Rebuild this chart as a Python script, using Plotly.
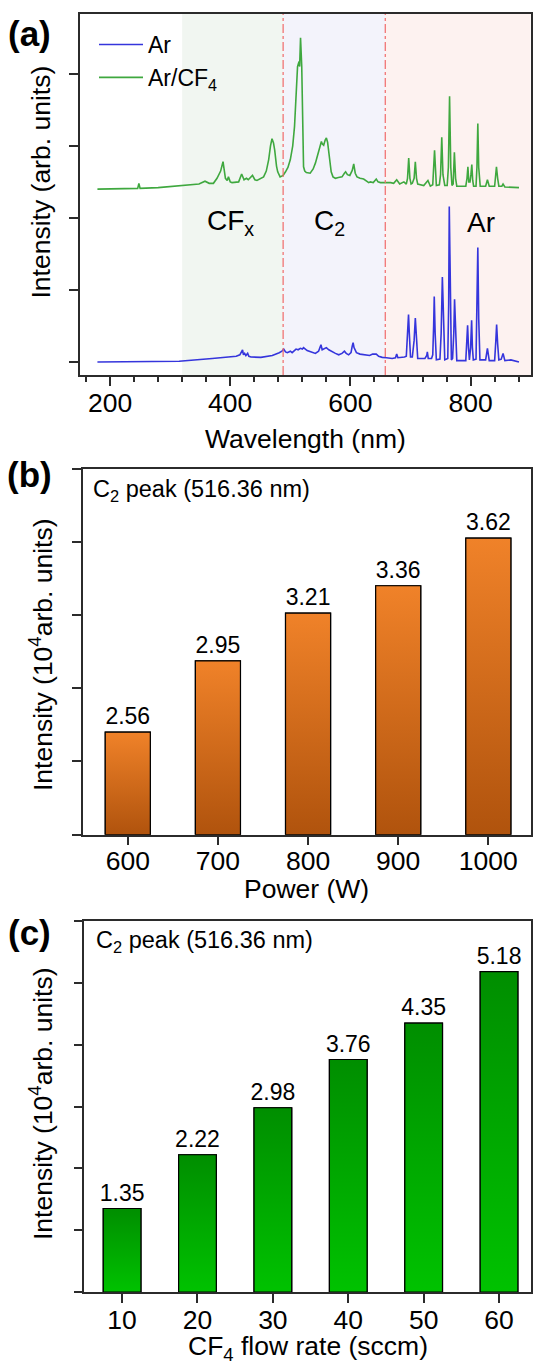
import plotly.graph_objects as go

# ---------------- (a) optical emission spectra ----------------
wl_arcf4 = [179, 200, 240, 246, 248, 250, 280, 310, 348, 358, 365, 372, 378, 384, 388, 392, 395, 397,
            400, 403, 414, 419, 423, 427, 430, 437, 441, 444.5, 455.5, 460, 464, 467, 469.5, 472, 474,
            477, 479, 483, 488, 492, 496, 500, 504, 507, 510, 512, 514.5, 515.5, 517, 519, 520.5, 522,
            524, 526.7, 533, 538, 541.7, 547, 550, 551.7, 553, 555.5, 558, 560, 562, 564, 566, 568, 571,
            575, 580, 586, 590, 592, 595, 599, 603, 605.5, 608, 611, 616, 622, 630.5, 633, 638, 643, 646,
            650, 667, 672, 677, 682, 689, 693, 695, 697, 699, 701, 703, 706, 708, 710, 712, 722, 729,
            733, 737, 740, 743, 748, 750, 752, 754, 757, 761, 763, 765, 767, 769, 771, 773, 775, 777,
            792, 794, 795.5, 797, 799, 800.5, 802, 803.5, 805, 809, 810.5, 812, 813.5, 816, 825, 828,
            831, 840, 841.5, 843, 845, 847, 852, 854, 857, 880.5]
int_arcf4 = [2.40, 2.40, 2.41, 2.41, 2.48, 2.41, 2.42, 2.44, 2.47, 2.51, 2.48, 2.48, 2.55, 2.65, 2.78,
             2.55, 2.52, 2.57, 2.50, 2.49, 2.50, 2.61, 2.53, 2.55, 2.53, 2.59, 2.53, 2.52, 2.57, 2.65,
             2.81, 3.00, 3.10, 3.04, 2.94, 2.72, 2.64, 2.57, 2.59, 2.64, 2.70, 2.81, 3.00, 3.27, 3.75,
             4.10, 4.17, 4.10, 4.50, 4.10, 3.40, 2.71, 2.65, 2.63, 2.62, 2.68, 2.76, 2.92, 3.02, 3.06,
             3.03, 3.01, 3.08, 3.11, 3.05, 2.92, 2.75, 2.64, 2.57, 2.55, 2.56, 2.57, 2.62, 2.64, 2.60,
             2.59, 2.66, 2.75, 2.62, 2.57, 2.55, 2.54, 2.49, 2.50, 2.49, 2.54, 2.50, 2.49, 2.49, 2.48,
             2.53, 2.47, 2.50, 2.47, 2.55, 2.83, 2.55, 2.47, 2.48, 2.55, 2.78, 2.55, 2.47, 2.45, 2.52,
             2.44, 2.46, 2.94, 2.45, 2.46, 2.60, 3.12, 2.60, 2.45, 2.45, 2.70, 3.69, 2.70, 2.45, 2.47,
             2.91, 2.55, 2.44, 2.44, 2.55, 2.71, 2.50, 2.50, 2.60, 2.74, 2.52, 2.44, 2.44, 2.70, 3.31,
             2.70, 2.44, 2.44, 2.53, 2.44, 2.44, 2.60, 2.71, 2.55, 2.44, 2.44, 2.47, 2.43, 2.42]

wl_ar = [179, 250, 315, 370, 410, 416, 418, 420.5, 422, 424, 426, 429, 431, 434.5, 451, 470, 481.5, 486,
         489, 492, 495, 500, 503, 509.5, 513, 516.7, 520, 522, 525, 528, 535, 541.7, 547, 549, 551, 553,
         555, 558, 560, 564, 569.5, 575, 580.5, 586, 590, 593, 597, 601, 603, 604.5, 606, 608, 610, 616,
         622, 632, 637, 643, 647, 653, 660, 669.5, 675, 677, 679, 686, 690, 693, 695, 696.7, 698, 700,
         703, 706, 708, 710, 712, 724, 727, 728, 729.5, 735, 737, 738.5, 739.5, 741, 743, 749, 751, 753,
         755, 757, 762, 763.5, 764.5, 766, 768, 770, 772, 773.3, 775, 777, 792, 793.5, 795, 796.5, 798,
         800, 801.7, 803, 804.5, 809, 810.5, 812, 813.5, 815.5, 825, 828, 831, 840, 842, 843.3, 845, 847,
         851, 854, 857, 867, 880.5]
int_ar = [0.00, 0.00, 0.01, 0.05, 0.08, 0.10, 0.14, 0.17, 0.10, 0.12, 0.09, 0.12, 0.08, 0.07, 0.065, 0.09,
          0.13, 0.15, 0.18, 0.14, 0.13, 0.15, 0.13, 0.18, 0.17, 0.19, 0.18, 0.20, 0.18, 0.16, 0.14, 0.12,
          0.15, 0.20, 0.24, 0.17, 0.18, 0.20, 0.20, 0.17, 0.14, 0.12, 0.10, 0.12, 0.15, 0.12, 0.10, 0.13,
          0.22, 0.27, 0.20, 0.15, 0.13, 0.11, 0.10, 0.09, 0.11, 0.11, 0.08, 0.065, 0.06, 0.05, 0.06, 0.11,
          0.06, 0.06, 0.07, 0.08, 0.35, 0.66, 0.40, 0.07, 0.07, 0.30, 0.61, 0.35, 0.05, 0.05, 0.09, 0.14,
          0.05, 0.05, 0.10, 0.50, 0.91, 0.40, 0.03, 0.04, 0.40, 1.18, 0.40, 0.03, 0.05, 0.80, 2.16, 0.80,
          0.03, 0.05, 0.40, 0.87, 0.30, 0.02, 0.02, 0.20, 0.51, 0.20, 0.03, 0.20, 0.58, 0.20, 0.03, 0.04,
          0.60, 1.59, 0.60, 0.03, 0.03, 0.19, 0.02, 0.02, 0.30, 0.52, 0.25, 0.03, 0.04, 0.12, 0.02, 0.03,
          0.00]

# spectral regions (nm) and their labels
region_edges = [320, 488, 658, 900]
region_names = ["CF<sub>x</sub>", "C<sub>2</sub>", "Ar"]
region_label_x = [401, 565, 817]

# ---------------- (b) C2 peak vs power ----------------
power_w = ["600", "700", "800", "900", "1000"]
c2_vs_power = [2.56, 2.95, 3.21, 3.36, 3.62]

# ---------------- (c) C2 peak vs CF4 flow ----------------
flow_sccm = ["10", "20", "30", "40", "50", "60"]
c2_vs_flow = [1.35, 2.22, 2.98, 3.76, 4.35, 5.18]

FONT = "Liberation Sans, Arial, Helvetica, sans-serif"
W, H = 533, 1362
AXC = "#2b2b2b"

fig = go.Figure()

fig.add_trace(go.Scatter(x=wl_ar, y=int_ar, mode="lines", name="Ar",
                         line=dict(color="#3535DC", width=1.6), xaxis="x", yaxis="y"))
fig.add_trace(go.Scatter(x=wl_arcf4, y=int_arcf4, mode="lines", name="Ar/CF<sub>4</sub>",
                         line=dict(color="#3FA83F", width=1.6), xaxis="x", yaxis="y"))


def add_bars(cats, vals, xa, ya, floor, top_col, bot_col, mid_col):
    idx = list(range(len(cats)))
    bw = 0.5
    fig.add_trace(go.Bar(x=idx, y=vals, width=bw, xaxis=xa, yaxis=ya, showlegend=False,
                         marker=dict(color=mid_col, line=dict(color="black", width=1.2)),
                         text=[f"{v:.2f}" for v in vals], textposition="outside",
                         constraintext="none", cliponaxis=False,
                         textfont=dict(size=23, color="black", family=FONT)))
    # gradient fill drawn over each bar, spanning the visible part of the bar
    for i, v in zip(idx, vals):
        fig.add_trace(go.Scatter(
            x=[i - bw / 2, i + bw / 2, i + bw / 2, i - bw / 2, i - bw / 2],
            y=[floor, floor, v, v, floor],
            mode="lines", fill="toself", xaxis=xa, yaxis=ya, showlegend=False,
            hoverinfo="skip", line=dict(color="black", width=1.2),
            fillgradient=dict(type="vertical", colorscale=[[0, bot_col], [1, top_col]])))


add_bars(power_w, c2_vs_power, "x2", "y2", 2.0, "#F08229", "#B0530D", "#D8701E")
add_bars(flow_sccm, c2_vs_flow, "x3", "y3", 0.0, "#008E00", "#00C200", "#00A800")

# panel geometry in pixels (left, right, top, bottom)
panels = {
    "a": (80, 530.7, 14, 375),
    "b": (82.7, 530.7, 468.6, 834.7),
    "c": (84.4, 530.7, 921, 1292),
}


def xdom(p):
    return [p[0] / W, p[1] / W]


def ydom(p):
    return [1 - p[3] / H, 1 - p[2] / H]


tickfont = dict(size=26.5, color="black", family=FONT)
axis_common = dict(showline=True, linecolor=AXC, linewidth=1.5, mirror=True, ticks="outside",
                   ticklen=9, tickwidth=1.5, tickcolor=AXC, showgrid=False, zeroline=False,
                   tickfont=tickfont)

fig.update_layout(
    width=W, height=H, margin=dict(l=0, r=0, t=0, b=0),
    paper_bgcolor="white", plot_bgcolor="white",
    font=dict(family=FONT, color="black"),
    bargap=0.5,
    xaxis=dict(domain=xdom(panels["a"]), anchor="y", range=[150, 900], tick0=0, dtick=200,
               ticklabelstandoff=-6,
               minor=dict(dtick=40, tick0=0, ticks="outside", ticklen=5, tickwidth=1.5, tickcolor=AXC),
               **axis_common),
    yaxis=dict(domain=ydom(panels["a"]), anchor="x", range=[-0.18, 4.83], tick0=0, dtick=1,
               showticklabels=False, **axis_common),
    xaxis2=dict(domain=xdom(panels["b"]), anchor="y2", range=[-0.5, 4.47], ticklabelstandoff=-7,
                tickvals=list(range(len(power_w))), ticktext=power_w, **axis_common),
    yaxis2=dict(domain=ydom(panels["b"]), anchor="x2", range=[2.0, 4.0], tick0=2.0, dtick=0.4,
                showticklabels=False, **axis_common),
    xaxis3=dict(domain=xdom(panels["c"]), anchor="y3", range=[-0.5, 5.42], ticklabelstandoff=-6,
                tickvals=list(range(len(flow_sccm))), ticktext=flow_sccm, **axis_common),
    yaxis3=dict(domain=ydom(panels["c"]), anchor="x3", range=[0, 6], tick0=0, dtick=1,
                showticklabels=False, **axis_common),
    legend=dict(x=94 / W, y=1 - 23 / H, xanchor="left", yanchor="top", bgcolor="rgba(0,0,0,0)",
                font=dict(size=23, color="black", family=FONT), itemwidth=44, tracegroupgap=0),
)

# shaded spectral regions and separators
region_cols = ["#F1F6F1", "#F3F3FB", "#FDF2F0"]
shapes = []
for k in range(3):
    shapes.append(dict(type="rect", xref="x", yref="y domain", x0=region_edges[k], x1=region_edges[k + 1],
                       y0=0, y1=1, fillcolor=region_cols[k], line=dict(width=0), layer="below"))
for edge in region_edges[1:3]:
    shapes.append(dict(type="line", xref="x", yref="y domain", x0=edge, x1=edge, y0=0, y1=1,
                       line=dict(color="#F06A6A", width=1.2, dash="dashdot"), layer="above"))
fig.update_layout(shapes=shapes)

ann = []


def label(text, x, y, size, xref="paper", yref="paper", angle=0, xanchor="center", bold=False):
    ann.append(dict(text=f"<b>{text}</b>" if bold else text, x=x, y=y, xref=xref, yref=yref,
                    xanchor=xanchor, yanchor="middle", textangle=angle, showarrow=False,
                    font=dict(size=size, color="black", family=FONT)))


for name, xpos in zip(region_names, region_label_x):
    label(name, xpos, 1.94, 28, xref="x", yref="y")

for t, yc in [("(a)", 33.5), ("(b)", 475), ("(c)", 932)]:
    label(t, 29 / W, 1 - yc / H, 35, bold=True)

ytitles = [("Intensity (arb. units)", 182.5), ("Intensity (10<sup>4</sup>arb. units)", 655),
           ("Intensity (10<sup>4</sup>arb. units)", 1104)]
for t, yc in ytitles:
    label(t, 41 / W, 1 - yc / H, 26.5, angle=-90)

xtitles = [("Wavelength (nm)", "a", 439), ("Power (W)", "b", 889),
           ("CF<sub>4</sub> flow rate (sccm)", "c", 1348)]
for t, key, yc in xtitles:
    p = panels[key]
    label(t, (p[0] + p[1]) / 2 / W, 1 - yc / H, 26.5)

for yc, xl in [(490, 91), (941.6, 93.5)]:
    label("C<sub>2</sub> peak (516.36 nm)", xl / W, 1 - yc / H, 23.5, xanchor="left")

fig.update_layout(annotations=ann)

fig.write_html("out.html")
